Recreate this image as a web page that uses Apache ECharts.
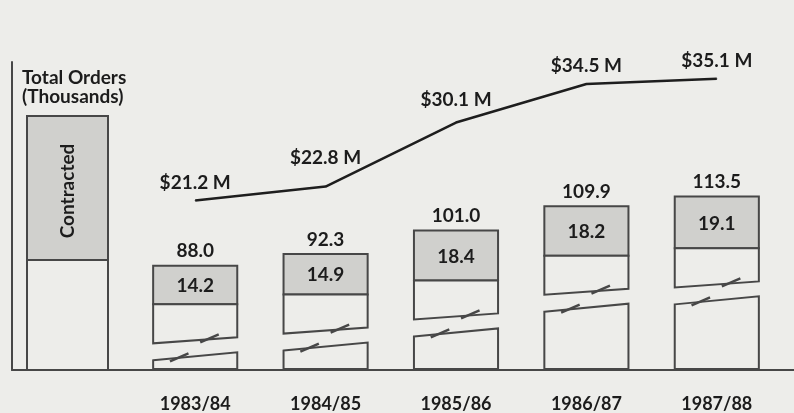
<!DOCTYPE html>
<html>
<head>
<meta charset="utf-8">
<script src="https://cdn.jsdelivr.net/npm/echarts@6.0.0/dist/echarts.min.js"></script>
<style>
html,body{margin:0;padding:0;background:#ededea;}
#box{width:794px;height:413px;}
</style>
</head>
<body>
<div id="box"></div>
<script>
// data
const years = ['1983/84', '1984/85', '1985/86', '1986/87', '1987/88']
const totalOrders = [88.0, 92.3, 101.0, 109.9, 113.5]
const contracted = [14.2, 14.9, 18.4, 18.2, 19.1]
const revenue = [21.2, 22.8, 30.1, 34.5, 35.1]
const keyLabel = 'Contracted'
const titleText = 'Total Orders\n(Thousands)'

// truncated order axis (the bars are broken), and the revenue axis
const ordersMin = 50, ordersMax = 163
const revMin = 2, revMax = 37

const ink = '#474747'
const txt = '#1c1c1c'
const shade = '#d0d0cd'
const paper = '#ededea'
const font = 'bold 19px Lato'

function renderBar(params, api) {
  const i = api.value(0)
  const total = api.value(1)
  const part = api.value(2)
  const top = api.coord([i, total])
  const mid = api.coord([i, total - part])
  const base = api.coord([i, ordersMin])
  const w = api.size([1, 0])[0] * 0.645
  const x0 = top[0] - w / 2, x1 = x0 + w
  // break sits a little below the shaded part
  const brk = Math.min(mid[1] + 44, base[1] - 18)
  const yu = brk - 8, yl = brk + 8
  const edge = {stroke: ink, lineWidth: 2.5}
  return {
    type: 'group',
    children: [
      {type: 'rect', shape: {x: x0, y: top[1], width: w, height: mid[1] - top[1]},
        style: {fill: shade, stroke: ink, lineWidth: 2}},
      {type: 'polygon', shape: {points: [[x0, mid[1]], [x1, mid[1]], [x1, yu - 3], [x0, yu + 3]]},
        style: {fill: paper, stroke: ink, lineWidth: 2}},
      {type: 'polygon', shape: {points: [[x0, yl + 4], [x1, yl - 4], [x1, base[1]], [x0, base[1]]]},
        style: {fill: paper, stroke: ink, lineWidth: 2}},
      {type: 'line', shape: {x1: x0 + w * 0.56, y1: yu + 2, x2: x0 + w * 0.78, y2: yu - 6}, style: edge},
      {type: 'line', shape: {x1: x0 + w * 0.2, y1: yl + 5, x2: x0 + w * 0.42, y2: yl - 3}, style: edge},
      {type: 'text', style: {text: part.toFixed(1), x: top[0], y: (top[1] + mid[1]) / 2 + 1,
        align: 'center', verticalAlign: 'middle', font: font, fill: txt}},
      {type: 'text', style: {text: total.toFixed(1), x: top[0], y: top[1] - 5,
        align: 'center', verticalAlign: 'bottom', font: font, fill: txt}}
    ]
  }
}

// lift a label when the line climbs steeply after it, so the text clears the line
function liftLabel(params) {
  const i = params.dataIndex
  const rise = i + 1 < revenue.length ? revenue[i + 1] - revenue[i] : 0
  return {dy: -Math.max(0, rise * 2.2 - 5)}
}

const myChart = echarts.init(document.getElementById('box'))
const option = {
  backgroundColor: paper,
  animation: false,
  title: {
    text: titleText,
    left: 17, top: 63,
    textStyle: {fontFamily: 'Lato', fontWeight: 'bold', fontSize: 19, lineHeight: 19, color: txt}
  },
  grid: [
    {left: 130, right: 12, top: 62, bottom: 43},
    {left: 12, right: 0, top: 62, bottom: 43}
  ],
  xAxis: [
    {
      type: 'category', gridIndex: 0, data: years,
      axisLine: {show: false}, axisTick: {show: false},
      axisLabel: {margin: 26, fontFamily: 'Lato', fontWeight: 'bold', fontSize: 18, color: txt}
    },
    {
      type: 'category', gridIndex: 1, data: [''],
      axisLine: {show: true, lineStyle: {color: ink, width: 2}},
      axisTick: {show: false}, axisLabel: {show: false}
    }
  ],
  yAxis: [
    {type: 'value', gridIndex: 0, min: ordersMin, max: ordersMax, show: false},
    {type: 'value', gridIndex: 0, min: revMin, max: revMax, show: false},
    {
      type: 'value', gridIndex: 1,
      axisLine: {show: true, lineStyle: {color: ink, width: 2}},
      axisTick: {show: false}, axisLabel: {show: false}, splitLine: {show: false}
    }
  ],
  graphic: [
    {type: 'rect', shape: {x: 27, y: 116, width: 81, height: 144},
      style: {fill: shade, stroke: ink, lineWidth: 2}},
    {type: 'rect', shape: {x: 27, y: 260, width: 81, height: 110},
      style: {fill: paper, stroke: ink, lineWidth: 2}},
    {type: 'text', x: 68, y: 191, rotation: Math.PI / 2,
      style: {text: keyLabel, align: 'center', verticalAlign: 'middle', font: font, fill: txt}}
  ],
  series: [
    {
      type: 'custom',
      xAxisIndex: 0, yAxisIndex: 0,
      renderItem: renderBar,
      encode: {x: 0, y: 1},
      data: years.map((y, i) => [i, totalOrders[i], contracted[i]])
    },
    {
      type: 'line',
      xAxisIndex: 0, yAxisIndex: 1,
      data: revenue,
      symbol: 'circle',
      symbolSize: 1,
      itemStyle: {color: '#1e1e1e'},
      lineStyle: {color: '#1e1e1e', width: 2.5},
      label: {
        show: true, position: 'top', distance: 8,
        formatter: (p) => '$' + p.value.toFixed(1) + ' M',
        fontFamily: 'Lato', fontWeight: 'bold', fontSize: 19, color: txt
      },
      labelLayout: liftLabel
    }
  ]
}
myChart.setOption(option)
</script>
</body>
</html>
